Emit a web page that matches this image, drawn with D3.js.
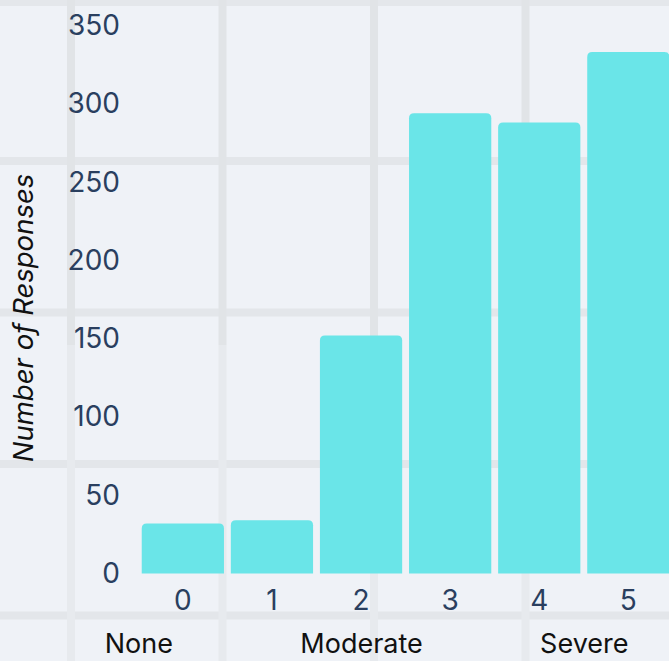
<!DOCTYPE html>
<html>
<script src="https://cdn.jsdelivr.net/npm/d3@7/dist/d3.min.js"></script>
<head>
    <title>Number of Responses by Rating</title>
    <style>
        body { margin: 0; background: #eff2f7; overflow: hidden; }
    </style>
</head>
<body>
    <div id="chart"></div>
    <script>
        // ratings on the x axis and the count of responses for each one
        const ratings = ["0", "1", "2", "3", "4", "5"];
        const responses = [32, 34, 152, 294, 288, 333];

        // y axis ticks
        const yTicks = [0, 50, 100, 150, 200, 250, 300, 350];

        // words under the ratings, placed at a rating position
        const levelNames = ["None", "Moderate", "Severe"];
        const levelAt = [-0.5, 2, 4.5];

        const width = 669;
        const height = 661;

        const svg = d3.select("#chart")
            .append("svg")
            .attr("width", width)
            .attr("height", height);

        svg.append("rect")
            .attr("width", width)
            .attr("height", height)
            .attr("fill", "#eff2f7");

        // background grid (a fixed square pattern, not tied to the ticks)
        const grid = svg.append("g");
        const cell = 151.5;
        const split = 345;

        grid.append("rect")
            .attr("x", 0).attr("y", 0)
            .attr("width", width).attr("height", 6)
            .attr("fill", "#e4e7eb");

        d3.range(161, height, cell).forEach(function (y) {
            grid.append("rect")
                .attr("x", 0).attr("y", y - 4)
                .attr("width", width).attr("height", 8)
                .attr("fill", "#e3e6ea");
        });

        d3.range(71, width, cell).forEach(function (x) {
            grid.append("rect")
                .attr("x", x - 4).attr("y", 0)
                .attr("width", 8).attr("height", split)
                .attr("fill", "#e1e4e7");
            grid.append("rect")
                .attr("x", x - 4).attr("y", split)
                .attr("width", 8).attr("height", height - split)
                .attr("fill", "#e7eaee");
        });

        // scales
        const xScale = d3.scaleBand()
            .domain(ratings)
            .range([138.3, 672.9])
            .paddingInner(0.077)
            .paddingOuter(0.0385);

        const yScale = d3.scaleLinear()
            .domain([0, 350])
            .range([573.5, 25.5]);

        const step = xScale.step();
        const first = xScale(ratings[0]) + xScale.bandwidth() / 2;
        const xPos = d3.scaleLinear()
            .domain([0, 1])
            .range([first, first + step]);

        // bars with rounded tops
        const r = 5;
        svg.append("g")
            .selectAll("path")
            .data(responses)
            .join("path")
            .attr("fill", "#6ae5e8")
            .attr("d", function (d, i) {
                const x0 = xScale(ratings[i]);
                const x1 = x0 + xScale.bandwidth();
                const y0 = yScale(0);
                const y1 = yScale(d);
                return "M" + x0 + "," + y0
                    + "V" + (y1 + r)
                    + "Q" + x0 + "," + y1 + " " + (x0 + r) + "," + y1
                    + "H" + (x1 - r)
                    + "Q" + x1 + "," + y1 + " " + x1 + "," + (y1 + r)
                    + "V" + y0 + "Z";
            });

        // y axis labels sit inside the plot
        const yAxis = svg.append("g")
            .attr("transform", "translate(120,0)")
            .call(d3.axisLeft(yScale).tickValues(yTicks).tickSize(0).tickPadding(0));
        yAxis.select(".domain").remove();
        yAxis.selectAll("text")
            .attr("font-family", "Inter, sans-serif")
            .attr("font-size", 28)
            .attr("fill", "#2a3f5f");

        // x axis with the ratings
        const xAxis = svg.append("g")
            .attr("transform", "translate(0,600)")
            .call(d3.axisBottom(xScale).tickSize(0).tickPadding(0));
        xAxis.select(".domain").remove();
        xAxis.selectAll("text")
            .attr("dy", "0.35em")
            .attr("font-family", "Inter, sans-serif")
            .attr("font-size", 28)
            .attr("fill", "#2a3f5f");

        // level words
        const levelAxis = svg.append("g")
            .attr("transform", "translate(0,653)")
            .call(d3.axisBottom(xPos)
                .tickValues(levelAt)
                .tickFormat(function (d, i) { return levelNames[i]; })
                .tickSize(0).tickPadding(0));
        levelAxis.select(".domain").remove();
        levelAxis.selectAll("text")
            .attr("dy", 0)
            .attr("font-family", "Inter, sans-serif")
            .attr("font-size", 27)
            .attr("fill", "#111111");

        // y axis title
        svg.append("text")
            .attr("transform", "rotate(-90)")
            .attr("x", -318)
            .attr("y", 33)
            .attr("text-anchor", "middle")
            .attr("font-family", "Inter, sans-serif")
            .attr("font-style", "italic")
            .attr("font-size", 27.5)
            .attr("fill", "#111111")
            .text("Number of Responses");
    </script>
</body>
</html>
